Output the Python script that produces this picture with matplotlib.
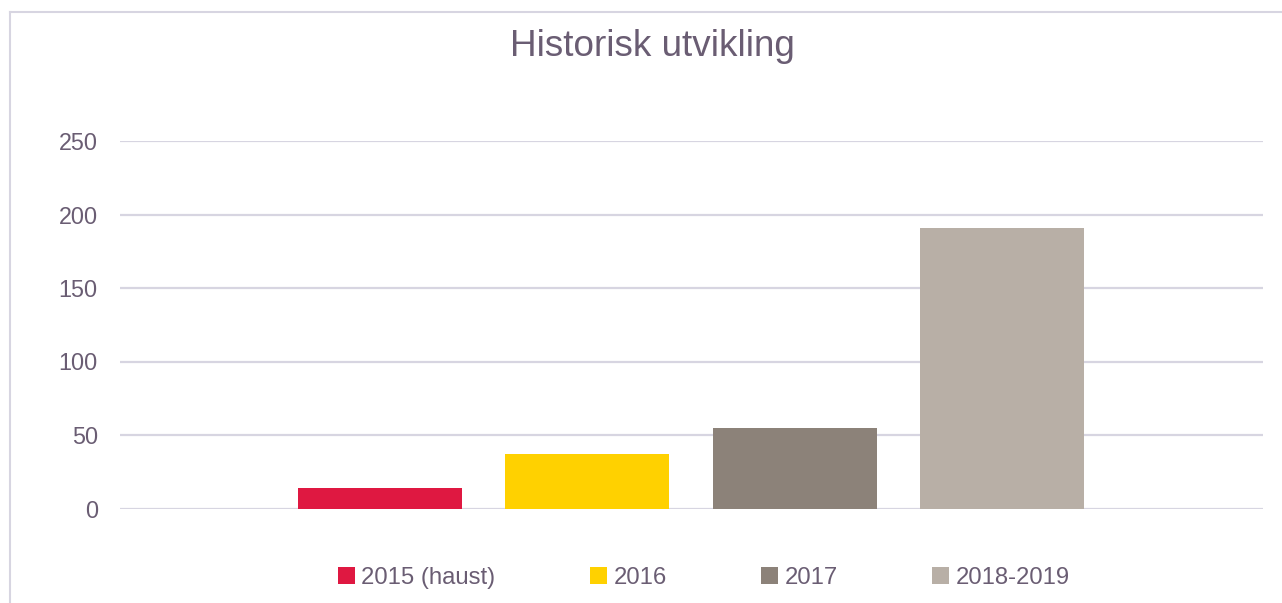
import matplotlib
matplotlib.use("Agg")
from matplotlib import pyplot as plt
from matplotlib.lines import Line2D

## data
labels = ['2015 (haust)', '2016', '2017', '2018-2019']
values = [14, 37, 55, 191]
colors = ['#DF1841', '#FFD100', '#8C8279', '#B8AFA6']

txt_color = '#6a5d73'
grid_color = '#d7d5e1'

plt.rcParams['font.family'] = ['Liberation Sans', 'DejaVu Sans']

fig = plt.figure(figsize=(12.82, 6.03), dpi=100)
ax = fig.add_axes([120 / 1282, 1 - 508.5 / 603, 1143 / 1282, 367.5 / 603])

x = range(len(values))
bars = ax.bar(x, values, width=0.79, color=colors, zorder=3)

ax.set_xlim(-1.253, 4.258)
ax.set_ylim(0, 250)
ax.set_yticks([0, 50, 100, 150, 200, 250])
ax.set_xticks([])
ax.yaxis.grid(True, color=grid_color, linewidth=1.6, zorder=0)
ax.tick_params(axis='y', length=0, pad=16, labelsize=16.8, labelcolor=txt_color)
for s in ax.spines.values():
    s.set_visible(False)

fig.text(652 / 1282, 1 - 47 / 603, 'Historisk utvikling', ha='center', va='center',
         fontsize=26.6, color=txt_color)

leg = fig.legend(bars, labels, loc='center', bbox_to_anchor=(704 / 1282, 1 - 578 / 603),
                 ncol=4, frameon=False, fontsize=17.2, handlelength=0.71, handleheight=0.71,
                 handletextpad=0.25, columnspacing=3.97, borderpad=0)
for t in leg.get_texts():
    t.set_color(txt_color)

# chart border (cropped on right and bottom)
fig.add_artist(Line2D([10 / 1282, 1], [1 - 11.5 / 603] * 2, color=grid_color, linewidth=1.5))
fig.add_artist(Line2D([10 / 1282] * 2, [0, 1 - 11.5 / 603], color=grid_color, linewidth=1.5))

fig.savefig('out.png', dpi=100)
